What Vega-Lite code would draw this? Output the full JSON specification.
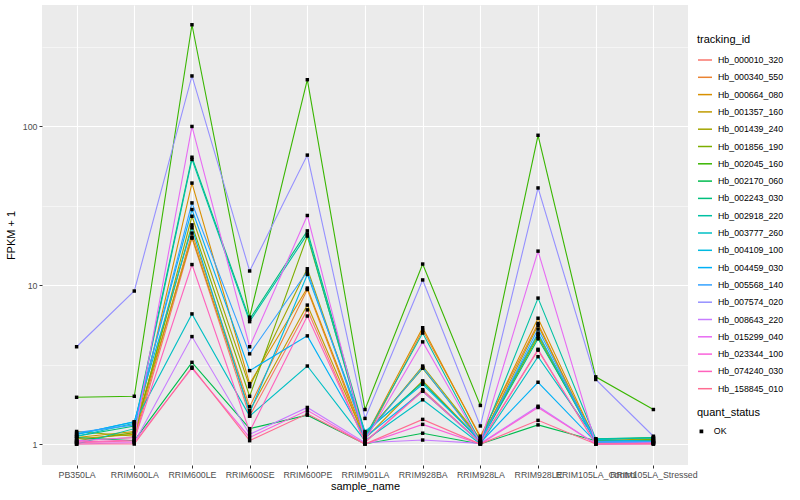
{
  "$schema": "https://vega.github.io/schema/vega-lite/v6.json",
  "width": 646,
  "height": 460,
  "autosize": {"type": "none"},
  "padding": {"left": 42, "top": 5, "right": 112, "bottom": 35},
  "background": "white",
  "config": {
    "font": "Liberation Sans",
    "view": {"fill": "#EBEBEB", "stroke": null},
    "axis": {
      "domain": false,
      "gridColor": "white",
      "gridWidth": 1.1,
      "tickColor": "#333333",
      "tickSize": 3,
      "tickWidth": 1,
      "labelColor": "#4D4D4D",
      "labelFontSize": 8.8,
      "labelPadding": 2,
      "titleFontSize": 11,
      "titleFontWeight": "normal",
      "titleColor": "black"
    },
    "legend": {
      "titleFontSize": 11,
      "titleFontWeight": "normal",
      "titleColor": "black",
      "labelFontSize": 8.8,
      "labelColor": "black"
    }
  },
  "data": {"values": [
    {"id":"Hb_000010_320","sample":"PB350LA","fpkm":1.02,"status":"OK"},
    {"id":"Hb_000010_320","sample":"RRIM600LA","fpkm":1.05,"status":"OK"},
    {"id":"Hb_000010_320","sample":"RRIM600LE","fpkm":19.8,"status":"OK"},
    {"id":"Hb_000010_320","sample":"RRIM600SE","fpkm":1.5,"status":"OK"},
    {"id":"Hb_000010_320","sample":"RRIM600PE","fpkm":7.0,"status":"OK"},
    {"id":"Hb_000010_320","sample":"RRIM901LA","fpkm":1.02,"status":"OK"},
    {"id":"Hb_000010_320","sample":"RRIM928BA","fpkm":2.2,"status":"OK"},
    {"id":"Hb_000010_320","sample":"RRIM928LA","fpkm":1.02,"status":"OK"},
    {"id":"Hb_000010_320","sample":"RRIM928LE","fpkm":3.9,"status":"OK"},
    {"id":"Hb_000010_320","sample":"RRIM105LA_Control","fpkm":1.0,"status":"OK"},
    {"id":"Hb_000010_320","sample":"RRIM105LA_Stressed","fpkm":1.02,"status":"OK"},

    {"id":"Hb_000340_550","sample":"PB350LA","fpkm":1.05,"status":"OK"},
    {"id":"Hb_000340_550","sample":"RRIM600LA","fpkm":1.1,"status":"OK"},
    {"id":"Hb_000340_550","sample":"RRIM600LE","fpkm":21.3,"status":"OK"},
    {"id":"Hb_000340_550","sample":"RRIM600SE","fpkm":1.72,"status":"OK"},
    {"id":"Hb_000340_550","sample":"RRIM600PE","fpkm":9.4,"status":"OK"},
    {"id":"Hb_000340_550","sample":"RRIM901LA","fpkm":1.05,"status":"OK"},
    {"id":"Hb_000340_550","sample":"RRIM928BA","fpkm":5.2,"status":"OK"},
    {"id":"Hb_000340_550","sample":"RRIM928LA","fpkm":1.12,"status":"OK"},
    {"id":"Hb_000340_550","sample":"RRIM928LE","fpkm":5.75,"status":"OK"},
    {"id":"Hb_000340_550","sample":"RRIM105LA_Control","fpkm":1.02,"status":"OK"},
    {"id":"Hb_000340_550","sample":"RRIM105LA_Stressed","fpkm":1.05,"status":"OK"},

    {"id":"Hb_000664_080","sample":"PB350LA","fpkm":1.08,"status":"OK"},
    {"id":"Hb_000664_080","sample":"RRIM600LA","fpkm":1.15,"status":"OK"},
    {"id":"Hb_000664_080","sample":"RRIM600LE","fpkm":44,"status":"OK"},
    {"id":"Hb_000664_080","sample":"RRIM600SE","fpkm":2.4,"status":"OK"},
    {"id":"Hb_000664_080","sample":"RRIM600PE","fpkm":9.6,"status":"OK"},
    {"id":"Hb_000664_080","sample":"RRIM901LA","fpkm":1.1,"status":"OK"},
    {"id":"Hb_000664_080","sample":"RRIM928BA","fpkm":5.4,"status":"OK"},
    {"id":"Hb_000664_080","sample":"RRIM928LA","fpkm":1.1,"status":"OK"},
    {"id":"Hb_000664_080","sample":"RRIM928LE","fpkm":6.2,"status":"OK"},
    {"id":"Hb_000664_080","sample":"RRIM105LA_Control","fpkm":1.05,"status":"OK"},
    {"id":"Hb_000664_080","sample":"RRIM105LA_Stressed","fpkm":1.08,"status":"OK"},

    {"id":"Hb_001357_160","sample":"PB350LA","fpkm":1.1,"status":"OK"},
    {"id":"Hb_001357_160","sample":"RRIM600LA","fpkm":1.2,"status":"OK"},
    {"id":"Hb_001357_160","sample":"RRIM600LE","fpkm":20.1,"status":"OK"},
    {"id":"Hb_001357_160","sample":"RRIM600SE","fpkm":1.62,"status":"OK"},
    {"id":"Hb_001357_160","sample":"RRIM600PE","fpkm":7.5,"status":"OK"},
    {"id":"Hb_001357_160","sample":"RRIM901LA","fpkm":1.08,"status":"OK"},
    {"id":"Hb_001357_160","sample":"RRIM928BA","fpkm":2.5,"status":"OK"},
    {"id":"Hb_001357_160","sample":"RRIM928LA","fpkm":1.05,"status":"OK"},
    {"id":"Hb_001357_160","sample":"RRIM928LE","fpkm":5.6,"status":"OK"},
    {"id":"Hb_001357_160","sample":"RRIM105LA_Control","fpkm":1.03,"status":"OK"},
    {"id":"Hb_001357_160","sample":"RRIM105LA_Stressed","fpkm":1.06,"status":"OK"},

    {"id":"Hb_001439_240","sample":"PB350LA","fpkm":1.2,"status":"OK"},
    {"id":"Hb_001439_240","sample":"RRIM600LA","fpkm":1.12,"status":"OK"},
    {"id":"Hb_001439_240","sample":"RRIM600LE","fpkm":27.2,"status":"OK"},
    {"id":"Hb_001439_240","sample":"RRIM600SE","fpkm":2.3,"status":"OK"},
    {"id":"Hb_001439_240","sample":"RRIM600PE","fpkm":12.7,"status":"OK"},
    {"id":"Hb_001439_240","sample":"RRIM901LA","fpkm":1.12,"status":"OK"},
    {"id":"Hb_001439_240","sample":"RRIM928BA","fpkm":3.1,"status":"OK"},
    {"id":"Hb_001439_240","sample":"RRIM928LA","fpkm":1.08,"status":"OK"},
    {"id":"Hb_001439_240","sample":"RRIM928LE","fpkm":4.9,"status":"OK"},
    {"id":"Hb_001439_240","sample":"RRIM105LA_Control","fpkm":1.06,"status":"OK"},
    {"id":"Hb_001439_240","sample":"RRIM105LA_Stressed","fpkm":1.1,"status":"OK"},

    {"id":"Hb_001856_190","sample":"PB350LA","fpkm":1.05,"status":"OK"},
    {"id":"Hb_001856_190","sample":"RRIM600LA","fpkm":1.18,"status":"OK"},
    {"id":"Hb_001856_190","sample":"RRIM600LE","fpkm":24,"status":"OK"},
    {"id":"Hb_001856_190","sample":"RRIM600SE","fpkm":2.0,"status":"OK"},
    {"id":"Hb_001856_190","sample":"RRIM600PE","fpkm":20.4,"status":"OK"},
    {"id":"Hb_001856_190","sample":"RRIM901LA","fpkm":1.15,"status":"OK"},
    {"id":"Hb_001856_190","sample":"RRIM928BA","fpkm":3.0,"status":"OK"},
    {"id":"Hb_001856_190","sample":"RRIM928LA","fpkm":1.06,"status":"OK"},
    {"id":"Hb_001856_190","sample":"RRIM928LE","fpkm":4.75,"status":"OK"},
    {"id":"Hb_001856_190","sample":"RRIM105LA_Control","fpkm":1.04,"status":"OK"},
    {"id":"Hb_001856_190","sample":"RRIM105LA_Stressed","fpkm":1.07,"status":"OK"},

    {"id":"Hb_002045_160","sample":"PB350LA","fpkm":1.97,"status":"OK"},
    {"id":"Hb_002045_160","sample":"RRIM600LA","fpkm":2.0,"status":"OK"},
    {"id":"Hb_002045_160","sample":"RRIM600LE","fpkm":437,"status":"OK"},
    {"id":"Hb_002045_160","sample":"RRIM600SE","fpkm":6.3,"status":"OK"},
    {"id":"Hb_002045_160","sample":"RRIM600PE","fpkm":197,"status":"OK"},
    {"id":"Hb_002045_160","sample":"RRIM901LA","fpkm":1.65,"status":"OK"},
    {"id":"Hb_002045_160","sample":"RRIM928BA","fpkm":13.6,"status":"OK"},
    {"id":"Hb_002045_160","sample":"RRIM928LA","fpkm":1.75,"status":"OK"},
    {"id":"Hb_002045_160","sample":"RRIM928LE","fpkm":88,"status":"OK"},
    {"id":"Hb_002045_160","sample":"RRIM105LA_Control","fpkm":2.65,"status":"OK"},
    {"id":"Hb_002045_160","sample":"RRIM105LA_Stressed","fpkm":1.65,"status":"OK"},

    {"id":"Hb_002170_060","sample":"PB350LA","fpkm":1.1,"status":"OK"},
    {"id":"Hb_002170_060","sample":"RRIM600LA","fpkm":1.05,"status":"OK"},
    {"id":"Hb_002170_060","sample":"RRIM600LE","fpkm":3.27,"status":"OK"},
    {"id":"Hb_002170_060","sample":"RRIM600SE","fpkm":1.25,"status":"OK"},
    {"id":"Hb_002170_060","sample":"RRIM600PE","fpkm":1.52,"status":"OK"},
    {"id":"Hb_002170_060","sample":"RRIM901LA","fpkm":1.0,"status":"OK"},
    {"id":"Hb_002170_060","sample":"RRIM928BA","fpkm":1.17,"status":"OK"},
    {"id":"Hb_002170_060","sample":"RRIM928LA","fpkm":1.0,"status":"OK"},
    {"id":"Hb_002170_060","sample":"RRIM928LE","fpkm":1.32,"status":"OK"},
    {"id":"Hb_002170_060","sample":"RRIM105LA_Control","fpkm":1.05,"status":"OK"},
    {"id":"Hb_002170_060","sample":"RRIM105LA_Stressed","fpkm":1.05,"status":"OK"},

    {"id":"Hb_002243_030","sample":"PB350LA","fpkm":1.12,"status":"OK"},
    {"id":"Hb_002243_030","sample":"RRIM600LA","fpkm":1.3,"status":"OK"},
    {"id":"Hb_002243_030","sample":"RRIM600LE","fpkm":64,"status":"OK"},
    {"id":"Hb_002243_030","sample":"RRIM600SE","fpkm":6.1,"status":"OK"},
    {"id":"Hb_002243_030","sample":"RRIM600PE","fpkm":22,"status":"OK"},
    {"id":"Hb_002243_030","sample":"RRIM901LA","fpkm":1.18,"status":"OK"},
    {"id":"Hb_002243_030","sample":"RRIM928BA","fpkm":2.45,"status":"OK"},
    {"id":"Hb_002243_030","sample":"RRIM928LA","fpkm":1.04,"status":"OK"},
    {"id":"Hb_002243_030","sample":"RRIM928LE","fpkm":4.6,"status":"OK"},
    {"id":"Hb_002243_030","sample":"RRIM105LA_Control","fpkm":1.08,"status":"OK"},
    {"id":"Hb_002243_030","sample":"RRIM105LA_Stressed","fpkm":1.1,"status":"OK"},

    {"id":"Hb_002918_220","sample":"PB350LA","fpkm":1.0,"status":"OK"},
    {"id":"Hb_002918_220","sample":"RRIM600LA","fpkm":1.25,"status":"OK"},
    {"id":"Hb_002918_220","sample":"RRIM600LE","fpkm":62,"status":"OK"},
    {"id":"Hb_002918_220","sample":"RRIM600SE","fpkm":5.9,"status":"OK"},
    {"id":"Hb_002918_220","sample":"RRIM600PE","fpkm":21,"status":"OK"},
    {"id":"Hb_002918_220","sample":"RRIM901LA","fpkm":1.1,"status":"OK"},
    {"id":"Hb_002918_220","sample":"RRIM928BA","fpkm":5.0,"status":"OK"},
    {"id":"Hb_002918_220","sample":"RRIM928LA","fpkm":1.03,"status":"OK"},
    {"id":"Hb_002918_220","sample":"RRIM928LE","fpkm":8.3,"status":"OK"},
    {"id":"Hb_002918_220","sample":"RRIM105LA_Control","fpkm":1.08,"status":"OK"},
    {"id":"Hb_002918_220","sample":"RRIM105LA_Stressed","fpkm":1.09,"status":"OK"},

    {"id":"Hb_003777_260","sample":"PB350LA","fpkm":1.12,"status":"OK"},
    {"id":"Hb_003777_260","sample":"RRIM600LA","fpkm":1.35,"status":"OK"},
    {"id":"Hb_003777_260","sample":"RRIM600LE","fpkm":6.6,"status":"OK"},
    {"id":"Hb_003777_260","sample":"RRIM600SE","fpkm":1.5,"status":"OK"},
    {"id":"Hb_003777_260","sample":"RRIM600PE","fpkm":3.1,"status":"OK"},
    {"id":"Hb_003777_260","sample":"RRIM901LA","fpkm":1.05,"status":"OK"},
    {"id":"Hb_003777_260","sample":"RRIM928BA","fpkm":1.9,"status":"OK"},
    {"id":"Hb_003777_260","sample":"RRIM928LA","fpkm":1.0,"status":"OK"},
    {"id":"Hb_003777_260","sample":"RRIM928LE","fpkm":3.55,"status":"OK"},
    {"id":"Hb_003777_260","sample":"RRIM105LA_Control","fpkm":1.07,"status":"OK"},
    {"id":"Hb_003777_260","sample":"RRIM105LA_Stressed","fpkm":1.04,"status":"OK"},

    {"id":"Hb_004109_100","sample":"PB350LA","fpkm":1.15,"status":"OK"},
    {"id":"Hb_004109_100","sample":"RRIM600LA","fpkm":1.38,"status":"OK"},
    {"id":"Hb_004109_100","sample":"RRIM600LE","fpkm":23,"status":"OK"},
    {"id":"Hb_004109_100","sample":"RRIM600SE","fpkm":1.57,"status":"OK"},
    {"id":"Hb_004109_100","sample":"RRIM600PE","fpkm":11.7,"status":"OK"},
    {"id":"Hb_004109_100","sample":"RRIM901LA","fpkm":1.2,"status":"OK"},
    {"id":"Hb_004109_100","sample":"RRIM928BA","fpkm":2.38,"status":"OK"},
    {"id":"Hb_004109_100","sample":"RRIM928LA","fpkm":1.05,"status":"OK"},
    {"id":"Hb_004109_100","sample":"RRIM928LE","fpkm":5.0,"status":"OK"},
    {"id":"Hb_004109_100","sample":"RRIM105LA_Control","fpkm":1.02,"status":"OK"},
    {"id":"Hb_004109_100","sample":"RRIM105LA_Stressed","fpkm":1.03,"status":"OK"},

    {"id":"Hb_004459_030","sample":"PB350LA","fpkm":1.15,"status":"OK"},
    {"id":"Hb_004459_030","sample":"RRIM600LA","fpkm":1.38,"status":"OK"},
    {"id":"Hb_004459_030","sample":"RRIM600LE","fpkm":30,"status":"OK"},
    {"id":"Hb_004459_030","sample":"RRIM600SE","fpkm":2.9,"status":"OK"},
    {"id":"Hb_004459_030","sample":"RRIM600PE","fpkm":4.8,"status":"OK"},
    {"id":"Hb_004459_030","sample":"RRIM901LA","fpkm":1.1,"status":"OK"},
    {"id":"Hb_004459_030","sample":"RRIM928BA","fpkm":2.15,"status":"OK"},
    {"id":"Hb_004459_030","sample":"RRIM928LA","fpkm":1.02,"status":"OK"},
    {"id":"Hb_004459_030","sample":"RRIM928LE","fpkm":2.45,"status":"OK"},
    {"id":"Hb_004459_030","sample":"RRIM105LA_Control","fpkm":1.03,"status":"OK"},
    {"id":"Hb_004459_030","sample":"RRIM105LA_Stressed","fpkm":1.02,"status":"OK"},

    {"id":"Hb_005568_140","sample":"PB350LA","fpkm":1.18,"status":"OK"},
    {"id":"Hb_005568_140","sample":"RRIM600LA","fpkm":1.32,"status":"OK"},
    {"id":"Hb_005568_140","sample":"RRIM600LE","fpkm":33,"status":"OK"},
    {"id":"Hb_005568_140","sample":"RRIM600SE","fpkm":3.7,"status":"OK"},
    {"id":"Hb_005568_140","sample":"RRIM600PE","fpkm":12.2,"status":"OK"},
    {"id":"Hb_005568_140","sample":"RRIM901LA","fpkm":1.12,"status":"OK"},
    {"id":"Hb_005568_140","sample":"RRIM928BA","fpkm":3.04,"status":"OK"},
    {"id":"Hb_005568_140","sample":"RRIM928LA","fpkm":1.03,"status":"OK"},
    {"id":"Hb_005568_140","sample":"RRIM928LE","fpkm":5.3,"status":"OK"},
    {"id":"Hb_005568_140","sample":"RRIM105LA_Control","fpkm":1.04,"status":"OK"},
    {"id":"Hb_005568_140","sample":"RRIM105LA_Stressed","fpkm":1.04,"status":"OK"},

    {"id":"Hb_007574_020","sample":"PB350LA","fpkm":4.1,"status":"OK"},
    {"id":"Hb_007574_020","sample":"RRIM600LA","fpkm":9.2,"status":"OK"},
    {"id":"Hb_007574_020","sample":"RRIM600LE","fpkm":208,"status":"OK"},
    {"id":"Hb_007574_020","sample":"RRIM600SE","fpkm":12.3,"status":"OK"},
    {"id":"Hb_007574_020","sample":"RRIM600PE","fpkm":66,"status":"OK"},
    {"id":"Hb_007574_020","sample":"RRIM901LA","fpkm":1.45,"status":"OK"},
    {"id":"Hb_007574_020","sample":"RRIM928BA","fpkm":10.8,"status":"OK"},
    {"id":"Hb_007574_020","sample":"RRIM928LA","fpkm":1.3,"status":"OK"},
    {"id":"Hb_007574_020","sample":"RRIM928LE","fpkm":41,"status":"OK"},
    {"id":"Hb_007574_020","sample":"RRIM105LA_Control","fpkm":2.55,"status":"OK"},
    {"id":"Hb_007574_020","sample":"RRIM105LA_Stressed","fpkm":1.12,"status":"OK"},

    {"id":"Hb_008643_220","sample":"PB350LA","fpkm":1.0,"status":"OK"},
    {"id":"Hb_008643_220","sample":"RRIM600LA","fpkm":1.02,"status":"OK"},
    {"id":"Hb_008643_220","sample":"RRIM600LE","fpkm":4.75,"status":"OK"},
    {"id":"Hb_008643_220","sample":"RRIM600SE","fpkm":1.15,"status":"OK"},
    {"id":"Hb_008643_220","sample":"RRIM600PE","fpkm":1.7,"status":"OK"},
    {"id":"Hb_008643_220","sample":"RRIM901LA","fpkm":1.02,"status":"OK"},
    {"id":"Hb_008643_220","sample":"RRIM928BA","fpkm":1.06,"status":"OK"},
    {"id":"Hb_008643_220","sample":"RRIM928LA","fpkm":1.01,"status":"OK"},
    {"id":"Hb_008643_220","sample":"RRIM928LE","fpkm":1.73,"status":"OK"},
    {"id":"Hb_008643_220","sample":"RRIM105LA_Control","fpkm":1.0,"status":"OK"},
    {"id":"Hb_008643_220","sample":"RRIM105LA_Stressed","fpkm":1.01,"status":"OK"},

    {"id":"Hb_015299_040","sample":"PB350LA","fpkm":1.05,"status":"OK"},
    {"id":"Hb_015299_040","sample":"RRIM600LA","fpkm":1.1,"status":"OK"},
    {"id":"Hb_015299_040","sample":"RRIM600LE","fpkm":100,"status":"OK"},
    {"id":"Hb_015299_040","sample":"RRIM600SE","fpkm":4.1,"status":"OK"},
    {"id":"Hb_015299_040","sample":"RRIM600PE","fpkm":27.5,"status":"OK"},
    {"id":"Hb_015299_040","sample":"RRIM901LA","fpkm":1.05,"status":"OK"},
    {"id":"Hb_015299_040","sample":"RRIM928BA","fpkm":4.4,"status":"OK"},
    {"id":"Hb_015299_040","sample":"RRIM928LA","fpkm":1.02,"status":"OK"},
    {"id":"Hb_015299_040","sample":"RRIM928LE","fpkm":16.4,"status":"OK"},
    {"id":"Hb_015299_040","sample":"RRIM105LA_Control","fpkm":1.01,"status":"OK"},
    {"id":"Hb_015299_040","sample":"RRIM105LA_Stressed","fpkm":1.02,"status":"OK"},

    {"id":"Hb_023344_100","sample":"PB350LA","fpkm":1.03,"status":"OK"},
    {"id":"Hb_023344_100","sample":"RRIM600LA","fpkm":1.03,"status":"OK"},
    {"id":"Hb_023344_100","sample":"RRIM600LE","fpkm":3.0,"status":"OK"},
    {"id":"Hb_023344_100","sample":"RRIM600SE","fpkm":1.1,"status":"OK"},
    {"id":"Hb_023344_100","sample":"RRIM600PE","fpkm":1.63,"status":"OK"},
    {"id":"Hb_023344_100","sample":"RRIM901LA","fpkm":1.0,"status":"OK"},
    {"id":"Hb_023344_100","sample":"RRIM928BA","fpkm":1.33,"status":"OK"},
    {"id":"Hb_023344_100","sample":"RRIM928LA","fpkm":1.0,"status":"OK"},
    {"id":"Hb_023344_100","sample":"RRIM928LE","fpkm":1.7,"status":"OK"},
    {"id":"Hb_023344_100","sample":"RRIM105LA_Control","fpkm":1.0,"status":"OK"},
    {"id":"Hb_023344_100","sample":"RRIM105LA_Stressed","fpkm":1.0,"status":"OK"},

    {"id":"Hb_074240_030","sample":"PB350LA","fpkm":1.03,"status":"OK"},
    {"id":"Hb_074240_030","sample":"RRIM600LA","fpkm":1.06,"status":"OK"},
    {"id":"Hb_074240_030","sample":"RRIM600LE","fpkm":13.5,"status":"OK"},
    {"id":"Hb_074240_030","sample":"RRIM600SE","fpkm":1.2,"status":"OK"},
    {"id":"Hb_074240_030","sample":"RRIM600PE","fpkm":6.4,"status":"OK"},
    {"id":"Hb_074240_030","sample":"RRIM901LA","fpkm":1.03,"status":"OK"},
    {"id":"Hb_074240_030","sample":"RRIM928BA","fpkm":2.15,"status":"OK"},
    {"id":"Hb_074240_030","sample":"RRIM928LA","fpkm":1.02,"status":"OK"},
    {"id":"Hb_074240_030","sample":"RRIM928LE","fpkm":3.95,"status":"OK"},
    {"id":"Hb_074240_030","sample":"RRIM105LA_Control","fpkm":1.0,"status":"OK"},
    {"id":"Hb_074240_030","sample":"RRIM105LA_Stressed","fpkm":1.01,"status":"OK"},

    {"id":"Hb_158845_010","sample":"PB350LA","fpkm":1.0,"status":"OK"},
    {"id":"Hb_158845_010","sample":"RRIM600LA","fpkm":1.0,"status":"OK"},
    {"id":"Hb_158845_010","sample":"RRIM600LE","fpkm":3.05,"status":"OK"},
    {"id":"Hb_158845_010","sample":"RRIM600SE","fpkm":1.05,"status":"OK"},
    {"id":"Hb_158845_010","sample":"RRIM600PE","fpkm":1.55,"status":"OK"},
    {"id":"Hb_158845_010","sample":"RRIM901LA","fpkm":1.0,"status":"OK"},
    {"id":"Hb_158845_010","sample":"RRIM928BA","fpkm":1.43,"status":"OK"},
    {"id":"Hb_158845_010","sample":"RRIM928LA","fpkm":1.0,"status":"OK"},
    {"id":"Hb_158845_010","sample":"RRIM928LE","fpkm":1.41,"status":"OK"},
    {"id":"Hb_158845_010","sample":"RRIM105LA_Control","fpkm":1.0,"status":"OK"},
    {"id":"Hb_158845_010","sample":"RRIM105LA_Stressed","fpkm":1.0,"status":"OK"}
  ]},
  "encoding": {
    "x": {
      "field": "sample", "type": "nominal", "title": "sample_name",
      "sort": ["PB350LA","RRIM600LA","RRIM600LE","RRIM600SE","RRIM600PE","RRIM901LA","RRIM928BA","RRIM928LA","RRIM928LE","RRIM105LA_Control","RRIM105LA_Stressed"],
      "scale": {"type": "point", "padding": 0.6},
      "axis": {"labelAngle": 0, "grid": true, "titlePadding": 2, "labelOverlap": false}
    },
    "y": {
      "field": "fpkm", "type": "quantitative", "title": "FPKM + 1",
      "scale": {"type": "log", "domain": [0.738, 582], "nice": false, "zero": false},
      "axis": {
        "values": [1, 3.1623, 10, 31.623, 100, 316.23],
        "labelExpr": "datum.value == 1 ? '1' : datum.value == 10 ? '10' : datum.value == 100 ? '100' : ''",
        "gridWidth": {"condition": {"test": "datum.value == 1 || datum.value == 10 || datum.value == 100", "value": 1.1}, "value": 0.5},
        "tickOpacity": {"condition": {"test": "datum.value == 1 || datum.value == 10 || datum.value == 100", "value": 1}, "value": 0},
        "titlePadding": 6
      }
    }
  },
  "layer": [
    {
      "mark": {"type": "line", "strokeWidth": 1.1},
      "encoding": {
        "color": {
          "field": "id", "type": "nominal",
          "scale": {
            "domain": ["Hb_000010_320","Hb_000340_550","Hb_000664_080","Hb_001357_160","Hb_001439_240","Hb_001856_190","Hb_002045_160","Hb_002170_060","Hb_002243_030","Hb_002918_220","Hb_003777_260","Hb_004109_100","Hb_004459_030","Hb_005568_140","Hb_007574_020","Hb_008643_220","Hb_015299_040","Hb_023344_100","Hb_074240_030","Hb_158845_010"],
            "range": ["#F8766D","#EA8331","#D89000","#C09B00","#A3A500","#7CAE00","#39B600","#00BB4E","#00BF7D","#00C1A3","#00BFC4","#00BAE0","#00B0F6","#35A2FF","#9590FF","#C77CFF","#E76BF3","#FA62DB","#FF62BC","#FF6C91"]
          },
          "legend": {
            "title": "tracking_id",
            "orient": "none", "legendX": 655, "legendY": 29,
            "symbolType": "stroke", "symbolSize": 196, "symbolStrokeWidth": 1.5,
            "rowPadding": 4.3, "labelOffset": 5, "titlePadding": 7
          }
        }
      }
    },
    {
      "mark": {"type": "point", "filled": true, "color": "black", "opacity": 1, "size": 12},
      "encoding": {
        "shape": {
          "field": "status", "type": "nominal",
          "scale": {"range": ["square"]},
          "legend": {
            "title": "quant_status",
            "orient": "none", "legendX": 655, "legendY": 402,
            "symbolFillColor": "black", "symbolStrokeColor": "black", "symbolSize": 14,
            "labelOffset": 8, "titlePadding": 9
          }
        }
      }
    }
  ]
}
